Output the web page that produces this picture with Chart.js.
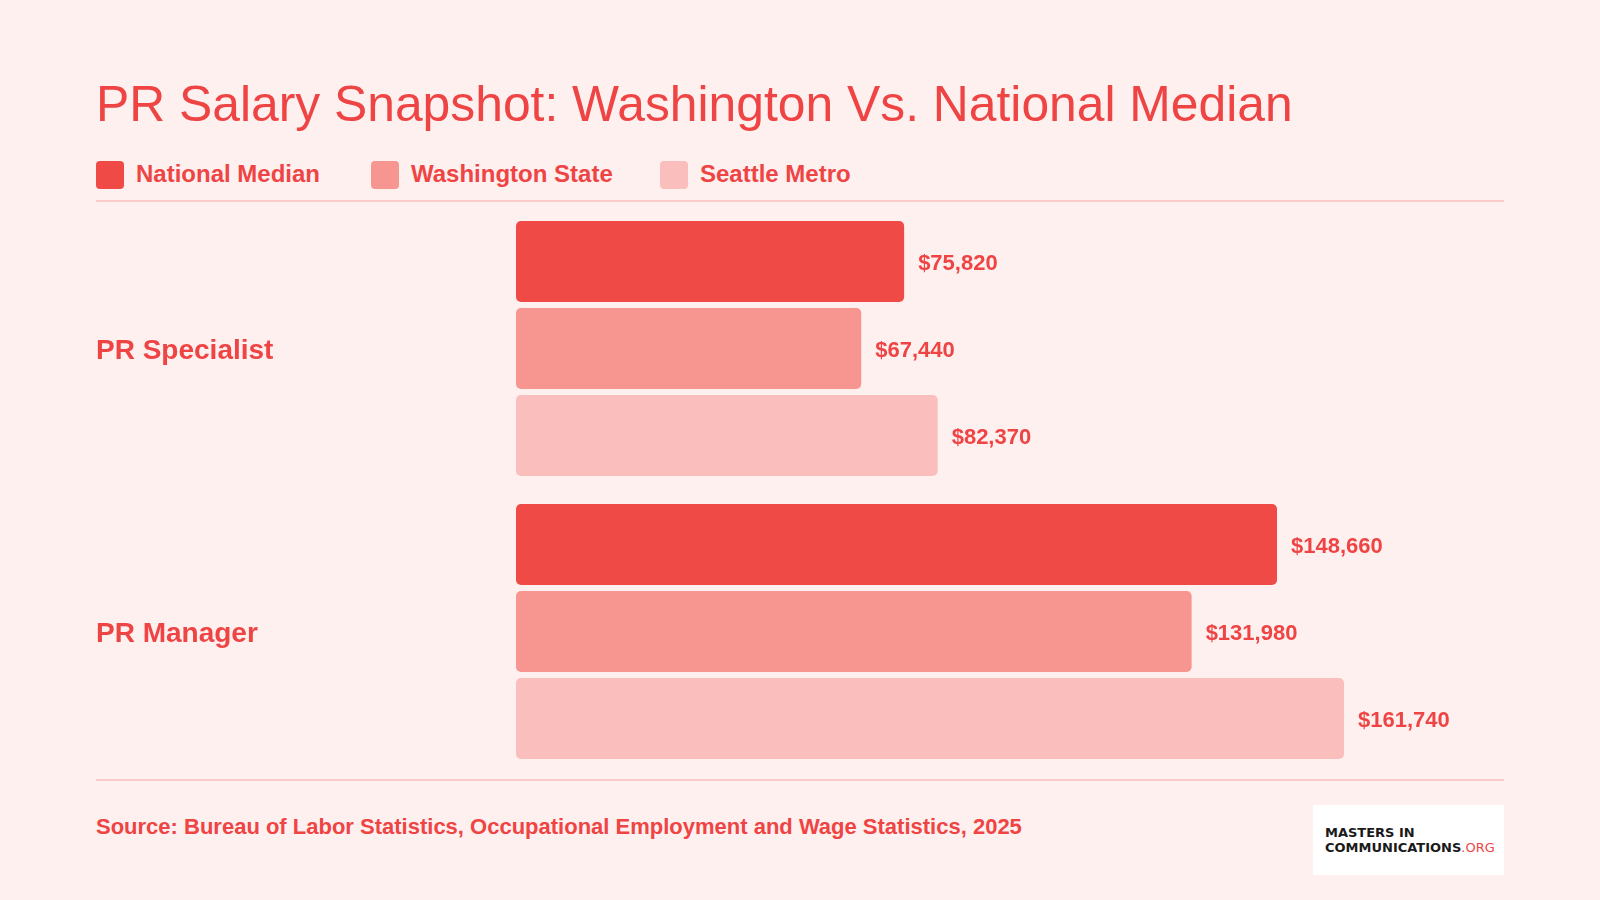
<!DOCTYPE html>
<html>
<head>
<meta charset="utf-8">
<script src="https://cdn.jsdelivr.net/npm/chart.js@4.4.1/dist/chart.umd.min.js"></script>
<style>
  html, body { margin: 0; padding: 0; }
  body { width: 1600px; height: 900px; background: #FFF0F0; position: relative; overflow: hidden;
         font-family: "Liberation Sans", Arial, Helvetica, sans-serif; color: #EF4444; }
  .title { position: absolute; left: 96px; top: 79px; font-size: 49.8px; line-height: 50px; white-space: nowrap; }
  .sw { position: absolute; top: 161px; width: 28px; height: 28px; border-radius: 4px; }
  .lt { position: absolute; top: 162px; font-size: 24px; line-height: 24px; font-weight: bold; white-space: nowrap; }
  .rule { position: absolute; left: 96px; width: 1408px; height: 2px; background: #FBCACA; }
  .source { position: absolute; left: 96px; top: 816px; font-size: 22px; line-height: 22px; font-weight: bold; white-space: nowrap; }
  .logo { position: absolute; left: 1313px; top: 805px; width: 191px; height: 70px; background: #FFFFFF; }
  .logo div { position: absolute; left: 12px; font-family: "DejaVu Sans", sans-serif; font-weight: bold; font-size: 13px; line-height: 13px; color: #1A1A1A; white-space: nowrap; letter-spacing: 0px; }
  .logo span { color: #EF4444; font-weight: normal; }
  #wrap { position: absolute; left: 0; top: 201px; width: 1600px; height: 578px; }
</style>
</head>
<body>
<div class="title">PR Salary Snapshot: Washington Vs. National Median</div>
<div id="legend"></div>
<div class="rule" style="top:200px"></div>
<div id="wrap"><canvas id="c"></canvas></div>
<div class="rule" style="top:779px"></div>
<div class="source">Source: Bureau of Labor Statistics, Occupational Employment and Wage Statistics, 2025</div>
<div class="logo">
  <div style="top:21px">MASTERS IN</div>
  <div style="top:36px">COMMUNICATIONS<span>.ORG</span></div>
</div>
<script>
const categories = ["PR Specialist", "PR Manager"];
const seriesNames = ["National Median", "Washington State", "Seattle Metro"];
const nationalMedian = [75820, 148660];
const washingtonState = [67440, 131980];
const seattleMetro = [82370, 161740];
const seriesColors = ["#F04A46", "#F79591", "#FABEBC"];

// HTML legend
const legendLefts = [96, 371, 660];
const legendEl = document.getElementById('legend');
seriesNames.forEach((n, i) => {
  const s = document.createElement('div');
  s.className = 'sw'; s.style.left = legendLefts[i] + 'px'; s.style.background = seriesColors[i];
  const t = document.createElement('div');
  t.className = 'lt'; t.style.left = (legendLefts[i] + 40) + 'px'; t.textContent = n;
  legendEl.appendChild(s); legendEl.appendChild(t);
});

const valueLabels = {
  id: 'valueLabels',
  afterDatasetsDraw(chart) {
    const ctx = chart.ctx;
    ctx.save();
    ctx.font = 'bold 22px "Liberation Sans", Arial, sans-serif';
    ctx.fillStyle = '#EF4444';
    ctx.textBaseline = 'middle';
    ctx.textAlign = 'left';
    chart.data.datasets.forEach((ds, di) => {
      chart.getDatasetMeta(di).data.forEach((bar, i) => {
        ctx.fillText('$' + ds.data[i].toLocaleString('en-US'), bar.x + 14, bar.y + 2.5);
      });
    });
    ctx.restore();
  }
};

const allSeries = [nationalMedian, washingtonState, seattleMetro];
new Chart(document.getElementById('c'), {
  type: 'bar',
  data: {
    labels: categories,
    datasets: allSeries.map((d, i) => ({
      label: seriesNames[i],
      data: d,
      backgroundColor: seriesColors[i],
      borderRadius: 5,
      borderSkipped: false,
      categoryPercentage: 0.922,
      barPercentage: 0.931
    }))
  },
  options: {
    indexAxis: 'y',
    responsive: true,
    maintainAspectRatio: false,
    animation: false,
    layout: { padding: { left: 96, right: 96, top: 6, bottom: 6 } },
    plugins: { legend: { display: false }, tooltip: { enabled: false }, title: { display: false } },
    scales: {
      x: { display: false, min: 0, max: 193000, grid: { display: false } },
      y: {
        grid: { display: false },
        border: { display: false },
        afterFit(axis) { axis.width = 420; },
        ticks: {
          crossAlign: 'far',
          padding: 0,
          color: '#EF4444',
          font: { family: '"Liberation Sans", Arial, sans-serif', size: 28, weight: 'bold', lineHeight: 0.18 },
          callback: function (v) { return ['', this.getLabelForValue(v)]; }
        }
      }
    }
  },
  plugins: [valueLabels]
});
</script>
</body>
</html>
